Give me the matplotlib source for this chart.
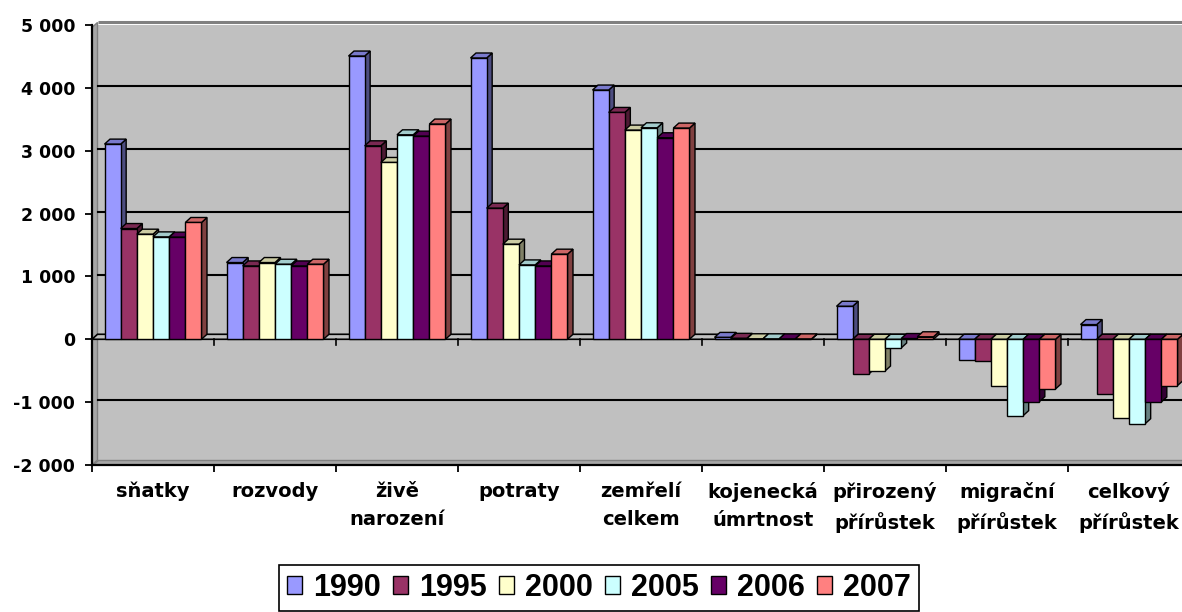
import matplotlib
matplotlib.use('Agg')
import matplotlib.pyplot as plt
from matplotlib.patches import Polygon, Patch
import numpy as np

categories = ['sňatky', 'rozvody', 'živě\nnarození', 'potraty', 'zemřelí\ncelkem',
              'kojenecká\númrtnost', 'přirozený\npřírůstek', 'migrační\npřírůstek',
              'celkový\npřírůstek']
years = ['1990', '1995', '2000', '2005', '2006', '2007']
v1990 = [3105, 1221, 4506, 4475, 3965, 30, 525, -334, 234]
v1995 = [1762, 1167, 3078, 2086, 3609, 15, -552, -340, -876]
v2000 = [1672, 1221, 2813, 1513, 3328, 8, -505, -743, -1247]
v2005 = [1629, 1194, 3253, 1183, 3365, 7, -138, -1215, -1343]
v2006 = [1625, 1167, 3232, 1167, 3206, 6, 12, -992, -998]
v2007 = [1858, 1194, 3424, 1354, 3360, 6, 40, -791, -737]
series = [v1990, v1995, v2000, v2005, v2006, v2007]
colors = ['#9999FF', '#993366', '#FFFFCC', '#CCFFFF', '#660066', '#FF8080']
yticks = [-2000, -1000, 0, 1000, 2000, 3000, 4000, 5000]
ytick_labels = ['-2 000', '-1 000', '0', '1 000', '2 000', '3 000', '4 000', '5 000']


def shade(c, f):
    r, g, b = matplotlib.colors.to_rgb(c)
    return (r * f, g * f, b * f)


W, H = 1182, 612
fig = plt.figure(figsize=(W / 100, H / 100), dpi=100)
fig.patch.set_facecolor('white')
ax = fig.add_axes([92 / W, 147 / H, 1098 / W, 440 / H])
ax.set_xlim(-0.5, 8.5)
ax.set_ylim(-2000, 5000)
ax.set_facecolor('#C0C0C0')

# depth offsets (data units)
dx = 5.5 / 122.0
dy = 5.0 / 440.0 * 7000

# walls
ax.add_patch(Polygon([(-0.5, -2000), (-0.5 + dx, -2000 + dy), (-0.5 + dx, 5000 + 40),
                      (-0.5, 5000 + 40 - dy)], closed=True, facecolor='#A6A6A6',
                     edgecolor='#808080', lw=1, zorder=1, clip_on=False))
ax.add_patch(Polygon([(-0.5, -2000), (8.6, -2000), (8.6, -2000 + dy), (-0.5 + dx, -2000 + dy)],
                     closed=True, facecolor='#A6A6A6', edgecolor='#808080', lw=1, zorder=1))
ax.plot([-0.5 + dx, 8.6], [5000 + 40, 5000 + 40], color='#808080', lw=2.2, zorder=1,
        clip_on=False, solid_capstyle='butt')
for g in [-1000, 1000, 2000, 3000, 4000]:
    ax.plot([-0.5 + dx, 8.6], [g + 30, g + 30], color='black', lw=1.5, zorder=1)

# floor plane at zero
ax.add_patch(Polygon([(-0.5, 0), (8.6, 0), (8.6 + dx, dy), (-0.5 + dx, dy)], closed=True,
                     facecolor='#C0C0C0', edgecolor='black', lw=1.2, zorder=2))
for b in np.arange(-0.5, 9.0, 1.0):
    ax.plot([b, b], [0, -90], color='black', lw=1.2, zorder=2)

n = len(series)
bw = 0.1325
x = np.arange(len(categories))
z = 3
for ci in range(len(categories)):
    for si in range(n):
        v = series[si][ci]
        x0 = x[ci] - n * bw / 2 + si * bw
        x1 = x0 + bw
        top = max(v, 0)
        bot = min(v, 0)
        col = colors[si]
        side = Polygon([(x1, bot), (x1 + dx, bot + dy), (x1 + dx, top + dy), (x1, top)],
                       closed=True, facecolor=shade(col, 0.5), edgecolor='black', lw=1, zorder=z)
        topf = Polygon([(x0, top), (x1, top), (x1 + dx, top + dy), (x0 + dx, top + dy)],
                       closed=True, facecolor=shade(col, 0.8), edgecolor='black', lw=1, zorder=z)
        ax.add_patch(side)
        ax.add_patch(topf)
        ax.bar([x0], [v], width=bw, align='edge', color=col, edgecolor='black', lw=1,
               zorder=z + 0.5)
        z += 1

# axes styling
for s in ['top', 'right']:
    ax.spines[s].set_visible(False)
ax.spines['left'].set_linewidth(1.6)
ax.spines['bottom'].set_linewidth(1.6)
ax.spines['left'].set_zorder(200)
ax.spines['bottom'].set_zorder(200)

ax.set_yticks(yticks)
ax.set_yticklabels(ytick_labels, fontsize=12.5, fontweight='bold', family='DejaVu Sans')
ax.tick_params(axis='y', direction='out', length=5, width=1.3, pad=7)

ax.set_xticks(x)
ax.set_xticklabels(categories, fontsize=14, fontweight='bold', family='DejaVu Sans',
                   linespacing=1.6)
ax.tick_params(axis='x', which='major', length=0, pad=12)
ax.set_xticks(np.arange(-0.5, 9.0, 1.0), minor=True)
ax.tick_params(axis='x', which='minor', direction='out', length=5, width=1.3)

handles = [Patch(facecolor=c, edgecolor='black', lw=1) for c in colors]
leg = fig.legend(handles, years, loc='center', bbox_to_anchor=(599 / W, 24 / H), ncol=6,
                 frameon=True, fancybox=False, edgecolor='black', framealpha=1,
                 prop=dict(family=['Liberation Sans Narrow', 'Liberation Sans'],
                           weight='bold', size=22),
                 handlelength=0.5, handleheight=0.5, handletextpad=0.35,
                 columnspacing=0.4, borderpad=0.25, borderaxespad=0)
leg.get_frame().set_linewidth(1.2)

fig.savefig('out.png', dpi=100, facecolor='white')
